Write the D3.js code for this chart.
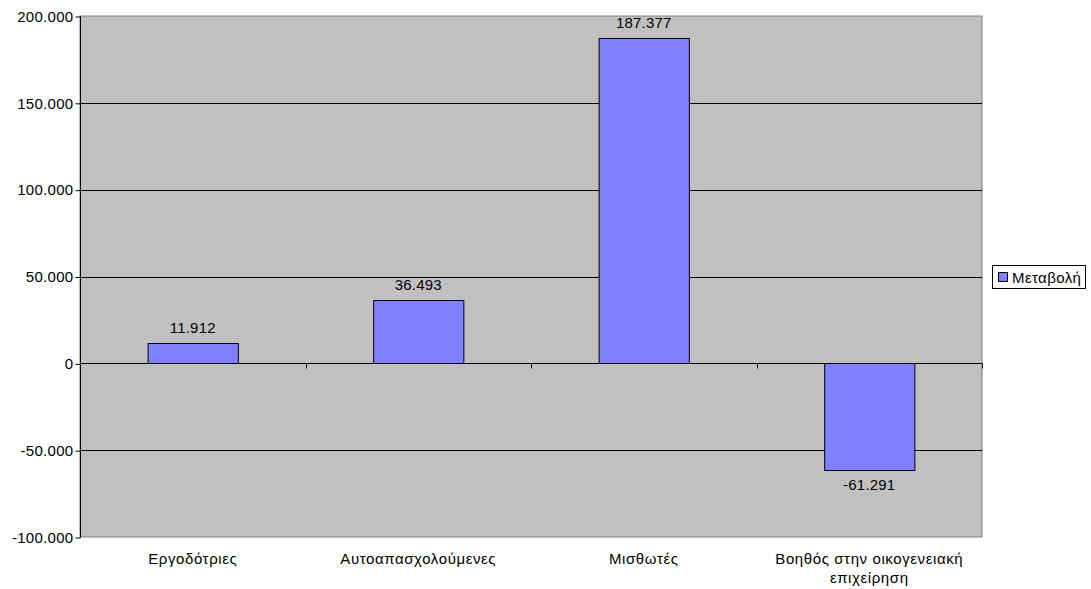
<!DOCTYPE html>
<html><head><meta charset="utf-8">
<script src="https://cdn.jsdelivr.net/npm/d3@7"></script>
<style>body{margin:0;background:#fff}svg{display:block}text{font-family:"Liberation Sans",Arial,sans-serif}</style>
</head><body>
<svg id="c" width="1091" height="589"></svg>
<script>
const categories = ["Εργοδότριες","Αυτοαπασχολούμενες","Μισθωτές","Βοηθός στην οικογενειακή επιχείρηση"];
const values = [11912, 36493, 187377, -61291];
const valueLabels = ["11.912","36.493","187.377","-61.291"];
const yTicks = [-100000,-50000,0,50000,100000,150000,200000];
const yTickLabels = ["-100.000","-50.000","0","50.000","100.000","150.000","200.000"];
const seriesName = "Μεταβολή";

const svg = d3.select("#c");
const L=80, R=982, T=16, B=537;
const x = d3.scaleBand().domain(categories).range([L,R]).paddingInner(0.6).paddingOuter(0.3);
const xb = d3.scaleBand().domain(categories).range([L,R]);
const y = d3.scaleLinear().domain([-100000,200000]).range([B,T]);

svg.append("rect").attr("x",L).attr("y",T).attr("width",R-L).attr("height",B-T)
  .attr("fill","#C0C0C0").attr("stroke","#808080").attr("stroke-width",1);

// gridlines
svg.append("g").selectAll("line").data(yTicks.filter(d=>d!==-100000 && d!==200000)).join("line")
  .attr("x1",L).attr("x2",R).attr("y1",d=>Math.round(y(d))+0.5).attr("y2",d=>Math.round(y(d))+0.5)
  .attr("stroke","#000").attr("stroke-width",1);

// y axis
const ya = d3.axisLeft(y).tickValues(yTicks).tickFormat((d,i)=>yTickLabels[i]).tickSize(5).tickPadding(2);
const yg = svg.append("g").attr("transform",`translate(${L+0.5},0.5)`).call(ya);
yg.select(".domain").attr("d",`M0,${T}V${B}`).attr("stroke","#000");
yg.selectAll("text").attr("font-size","15px").attr("fill","#000").attr("letter-spacing","0.3px");

// bars
svg.append("g").selectAll("rect").data(values).join("rect")
  .attr("x",(d,i)=>x(categories[i])+0.5)
  .attr("width",x.bandwidth())
  .attr("y",d=>Math.round(y(Math.max(0,d)))+0.5)
  .attr("height",d=>Math.abs(Math.round(y(d))-Math.round(y(0))))
  .attr("fill","#8080FF").attr("stroke","#000").attr("stroke-width",1);

// zero axis + ticks
const z = Math.round(y(0))+0.5;
svg.append("line").attr("x1",L).attr("x2",R).attr("y1",z).attr("y2",z).attr("stroke","#000");
svg.append("g").selectAll("line").data(d3.range(categories.length+1)).join("line")
  .attr("x1",i=>Math.round(L+i*xb.bandwidth())+0.5).attr("x2",i=>Math.round(L+i*xb.bandwidth())+0.5)
  .attr("y1",z).attr("y2",z+5).attr("stroke","#000");

// value labels
svg.append("g").selectAll("text").data(values).join("text")
  .attr("x",(d,i)=>x(categories[i])+x.bandwidth()/2)
  .attr("y",d=> d>=0 ? y(d)-10 : y(d)+20)
  .attr("text-anchor","middle").attr("font-size","15px").attr("fill","#000").attr("letter-spacing","0.2px")
  .text((d,i)=>valueLabels[i]);

// category labels
const catLines = [["Εργοδότριες"],["Αυτοαπασχολούμενες"],["Μισθωτές"],["Βοηθός στην οικογενειακή","επιχείρηση"]];
svg.append("g").selectAll("text").data(categories).join("text")
  .attr("x",d=>xb(d)+xb.bandwidth()/2).attr("y",564)
  .attr("text-anchor","middle").attr("font-size","15px").attr("fill","#000").attr("letter-spacing","0.6px")
  .each(function(d,i){
    const t=d3.select(this);
    catLines[i].forEach((ln,j)=>t.append("tspan").attr("x",xb(d)+xb.bandwidth()/2).attr("dy",j?19:0).text(ln));
  });

// legend
const lg = svg.append("g");
lg.append("rect").attr("x",992.5).attr("y",265.5).attr("width",93).attr("height",23).attr("fill","#fff").attr("stroke","#000");
lg.append("rect").attr("x",998.5).attr("y",272.5).attr("width",9).attr("height",9).attr("fill","#8080FF").attr("stroke","#000");
lg.append("text").attr("x",1012).attr("y",283).attr("font-size","15px").attr("fill","#000").attr("letter-spacing","0.4px").text(seriesName);
</script>
</body></html>
